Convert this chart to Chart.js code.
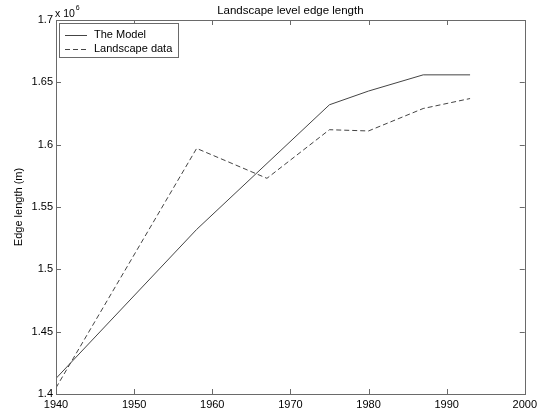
<!DOCTYPE html>
<html><head><meta charset="utf-8">
<script src="https://cdn.jsdelivr.net/npm/chart.js@4/dist/chart.umd.min.js"></script>
<style>html,body{margin:0;padding:0;background:#fff}#wrap{width:541px;height:413px}</style>
</head><body><div id="wrap"><canvas id="c" width="541" height="413"></canvas></div>
<script>
const years = [1940, 1958, 1967, 1975, 1980, 1987, 1993];
const modelYears = [1940, 1958, 1975, 1980, 1987, 1993];
const modelValues = [1.4125, 1.532, 1.632, 1.643, 1.656, 1.656];
const dataValues = [1.405, 1.597, 1.573, 1.612, 1.611, 1.629, 1.637];
const xTicks = [1940, 1950, 1960, 1970, 1980, 1990, 2000];
const yTicks = [1.4, 1.45, 1.5, 1.55, 1.6, 1.65, 1.7];
const titleText = 'Landscape level edge length';
const yLabel = 'Edge length (m)';
const seriesNames = ['The Model', 'Landscape data'];

const FONT = '"Liberation Sans", Arial, Helvetica, sans-serif';
const LINE = '#444';
const AXIS = '#6a6a6a';

const deco = {
  id: 'deco',
  afterDraw(chart) {
    const ctx = chart.ctx, a = chart.chartArea;
    const xs = chart.scales.x, ys = chart.scales.y;
    ctx.save();
    ctx.strokeStyle = AXIS; ctx.lineWidth = 1;
    ctx.strokeRect(Math.round(a.left)+0.5, Math.round(a.top)+0.5, Math.round(a.right-a.left), Math.round(a.bottom-a.top));
    const tl = 5;
    ctx.beginPath();
    xTicks.forEach(v => { const px = Math.round(xs.getPixelForValue(v))+0.5;
      ctx.moveTo(px, a.bottom); ctx.lineTo(px, a.bottom - tl);
      ctx.moveTo(px, a.top); ctx.lineTo(px, a.top + tl); });
    yTicks.forEach(v => { const py = Math.round(ys.getPixelForValue(v))+0.5;
      ctx.moveTo(a.left, py); ctx.lineTo(a.left + tl, py);
      ctx.moveTo(a.right, py); ctx.lineTo(a.right - tl, py); });
    ctx.stroke();
    ctx.fillStyle = '#000';
    ctx.font = '11.5px ' + FONT;
    ctx.textAlign = 'center'; ctx.textBaseline = 'middle';
    ctx.fillText(titleText, (a.left + a.right) / 2, 11);
    ctx.font = '11px ' + FONT;
    ctx.save();
    ctx.translate(19, (a.top + a.bottom) / 2);
    ctx.rotate(-Math.PI / 2);
    ctx.fillText(yLabel, 0, 0);
    ctx.restore();
    ctx.textAlign = 'left'; ctx.textBaseline = 'alphabetic';
    ctx.font = '10.5px ' + FONT;
    ctx.fillText('x 10', a.left - 1, a.top - 3);
    const w = ctx.measureText('x 10').width;
    ctx.font = '7px ' + FONT;
    ctx.fillText('6', a.left + w, a.top - 10);
    // legend
    const lx = 59, ly = a.top + 3, lw = 119, lh = 34;
    ctx.fillStyle = '#fff';
    ctx.fillRect(lx, ly, lw, lh);
    ctx.strokeStyle = AXIS;
    ctx.strokeRect(lx + 0.5, ly + 0.5, lw, lh);
    ctx.strokeStyle = LINE;
    ctx.beginPath(); ctx.moveTo(lx + 6, ly + 12.5); ctx.lineTo(lx + 28, ly + 12.5); ctx.stroke();
    ctx.setLineDash([5, 3]);
    ctx.beginPath(); ctx.moveTo(lx + 6, ly + 26.5); ctx.lineTo(lx + 28, ly + 26.5); ctx.stroke();
    ctx.setLineDash([]);
    ctx.fillStyle = '#000';
    ctx.font = '11px ' + FONT;
    ctx.textBaseline = 'middle';
    ctx.fillText(seriesNames[0], lx + 35, ly + 12);
    ctx.fillText(seriesNames[1], lx + 35, ly + 26);
    ctx.restore();
  }
};

new Chart(document.getElementById('c'), {
  type: 'line',
  data: {
    datasets: [
      { label: seriesNames[0], data: modelYears.map((y, i) => ({x: y, y: modelValues[i]})),
        borderColor: LINE, borderWidth: 1, pointRadius: 0, tension: 0, fill: false },
      { label: seriesNames[1], data: years.map((y, i) => ({x: y, y: dataValues[i]})),
        borderColor: LINE, borderWidth: 1, borderDash: [5, 3], pointRadius: 0, tension: 0, fill: false }
    ]
  },
  options: {
    responsive: false, animation: false, devicePixelRatio: 1,
    layout: { padding: { top: 20, right: 15, left: 0, bottom: 0 } },
    plugins: { legend: { display: false }, title: { display: false }, tooltip: { enabled: false } },
    scales: {
      x: { type: 'linear', min: 1940, max: 2000,
        afterBuildTicks: s => { s.ticks = xTicks.map(v => ({value: v})); },
        afterFit: s => { s.height = 19; },
        grid: { display: false, drawTicks: false }, border: { display: false },
        ticks: { color: '#000', font: { family: FONT, size: 11 }, padding: 4, maxRotation: 0, autoSkip: false,
          callback: v => String(v) } },
      y: { type: 'linear', min: 1.4, max: 1.7,
        afterBuildTicks: s => { s.ticks = yTicks.map(v => ({value: v})); },
        afterFit: s => { s.width = 56; },
        grid: { display: false, drawTicks: false }, border: { display: false },
        ticks: { color: '#000', font: { family: FONT, size: 11 }, padding: 3, autoSkip: false,
          callback: v => String(+v.toFixed(2)) } }
    }
  },
  plugins: [deco]
});
</script></body></html>
